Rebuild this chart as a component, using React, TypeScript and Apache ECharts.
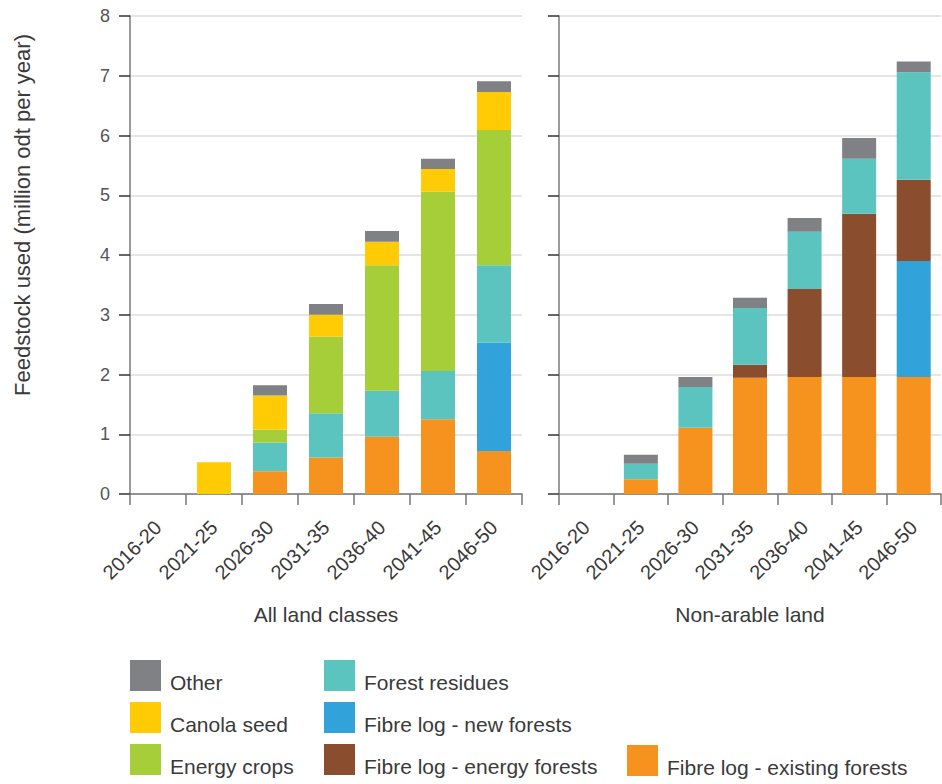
import React, { useEffect, useRef } from "react";
import * as echarts from "echarts";

const categories = ["2016-20", "2021-25", "2026-30", "2031-35", "2036-40", "2041-45", "2046-50"];
const yTicks = [0, 1, 2, 3, 4, 5, 6, 7, 8];

const seriesNames = [
  "Fibre log - existing forests",
  "Fibre log - new forests",
  "Fibre log - energy forests",
  "Forest residues",
  "Energy crops",
  "Canola seed",
  "Other",
];
const seriesColors = ["#F6921E", "#31A2DA", "#8A4E2F", "#5BC4BF", "#A6CE39", "#FFCB05", "#808184"];

// All land classes
const allExisting = [0, 0, 0.38, 0.61, 0.96, 1.25, 0.72];
const allNewForests = [0, 0, 0, 0, 0, 0, 1.81];
const allEnergyForests = [0, 0, 0, 0, 0, 0, 0];
const allResidues = [0, 0, 0.48, 0.74, 0.77, 0.81, 1.3];
const allEnergyCrops = [0, 0, 0.22, 1.28, 2.1, 3.0, 2.26];
const allCanola = [0, 0.53, 0.57, 0.37, 0.39, 0.38, 0.64];
const allOther = [0, 0, 0.17, 0.18, 0.18, 0.17, 0.18];

// Non-arable land
const naExisting = [0, 0.245, 1.11, 1.945, 1.96, 1.96, 1.96];
const naNewForests = [0, 0, 0, 0, 0, 0, 1.94];
const naEnergyForests = [0, 0, 0, 0.22, 1.47, 2.73, 1.36];
const naResidues = [0, 0.26, 0.68, 0.95, 0.96, 0.92, 1.8];
const naEnergyCrops = [0, 0, 0, 0, 0, 0, 0];
const naCanola = [0, 0, 0, 0, 0, 0, 0];
const naOther = [0, 0.15, 0.17, 0.17, 0.23, 0.35, 0.18];

const allData = [allExisting, allNewForests, allEnergyForests, allResidues, allEnergyCrops, allCanola, allOther];
const naData = [naExisting, naNewForests, naEnergyForests, naResidues, naEnergyCrops, naCanola, naOther];

const panelTitles = ["All land classes", "Non-arable land"];
const yTitle = "Feedstock used (million odt per year)";

const legendCols = [
  ["Other", "Canola seed", "Energy crops"],
  ["Forest residues", "Fibre log - new forests", "Fibre log - energy forests"],
  ["Fibre log - existing forests"],
];

const FONT = "Liberation Sans, Arial, sans-serif";

export default function App() {
  const ref = useRef<HTMLDivElement>(null);
  useEffect(() => {
    if (!ref.current) return;
    const chart = echarts.init(ref.current, null, { renderer: "svg" });

    const mkX = (gridIndex: number, name: string) => ({
      type: "category",
      gridIndex,
      data: categories,
      name,
      nameLocation: "middle",
      nameGap: 110,
      nameTextStyle: { fontFamily: FONT, fontSize: 21, color: "#3a3a3a" },
      axisLine: { show: true, lineStyle: { color: "#777", width: 1.5 } },
      axisTick: { show: true, length: 11, lineStyle: { color: "#777", width: 1.5 } },
      axisLabel: {
        rotate: 45,
        margin: 30,
        fontFamily: FONT,
        fontSize: 20,
        color: "#3a3a3a",
        interval: 0,
      },
    });
    const mkY = (gridIndex: number, showLabel: boolean) => ({
      type: "value",
      gridIndex,
      min: yTicks[0],
      max: yTicks[yTicks.length - 1],
      interval: 1,
      axisLine: { show: true, lineStyle: { color: "#7a7a7a", width: 1.5 } },
      axisTick: { show: true, length: 11, lineStyle: { color: "#333", width: 1.5 } },
      axisLabel: {
        show: showLabel,
        margin: 20,
        fontFamily: FONT,
        fontSize: 18,
        color: "#555",
      },
      splitLine: { show: true, lineStyle: { color: "#dcdcdc", width: 1.5 } },
    });

    const series: any[] = [];
    [allData, naData].forEach((dataset, gi) => {
      dataset.forEach((vals, i) => {
        series.push({
          type: "bar",
          name: seriesNames[i],
          xAxisIndex: gi,
          yAxisIndex: gi,
          stack: "s" + gi,
          barWidth: 34,
          data: vals,
          itemStyle: { color: seriesColors[i] },
        });
      });
    });

    const colorOf = (n: string) => seriesColors[seriesNames.indexOf(n)];
    const legendLefts = [130, 324, 627];
    const legendTops = [660, 660, 745];
    const legends = legendCols.map((names, i) => ({
      orient: "vertical",
      left: legendLefts[i],
      top: legendTops[i],
      itemWidth: 31,
      itemHeight: 31,
      itemGap: 9,
      padding: 0,
      icon: "rect",
      selectedMode: false,
      data: names.map((n) => ({ name: n, itemStyle: { color: colorOf(n) } })),
      formatter: "{t|{name}}",
      textStyle: {
        fontFamily: FONT,
        fontSize: 21,
        color: "#3a3a3a",
        rich: {
          t: {
            fontFamily: FONT,
            fontSize: 21,
            color: "#3a3a3a",
            padding: [14, 0, 0, 4],
          },
        },
      },
    }));

    chart.setOption({
      animation: false,
      backgroundColor: "#fff",
      grid: [
        { left: 130, top: 16, width: 392, height: 478 },
        { left: 559, top: 16, width: 382, height: 478 },
      ],
      xAxis: [mkX(0, panelTitles[0]), mkX(1, panelTitles[1])],
      yAxis: [mkY(0, true), mkY(1, false)],
      legend: legends,
      series,
      graphic: [
        {
          type: "text",
          x: 22,
          y: 215,
          rotation: Math.PI / 2,
          style: {
            text: yTitle,
            fontFamily: FONT,
            fontSize: 22,
            fill: "#3a3a3a",
            textAlign: "center",
            textVerticalAlign: "middle",
          },
        },
      ],
    });
    return () => chart.dispose();
  }, []);
  return (
    <div
      ref={ref}
      style={{ position: "absolute", left: 0, top: 0, width: 942, height: 784 }}
    />
  );
}
